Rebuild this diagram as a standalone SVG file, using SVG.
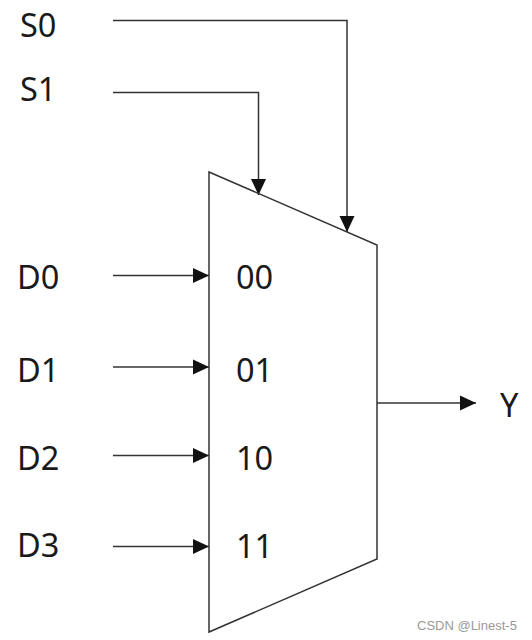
<svg xmlns="http://www.w3.org/2000/svg" width="532" height="640" viewBox="0 0 532 640">
<style>
.l{font-family:"Noto Sans","Open Sans","DejaVu Sans",sans-serif;font-size:32.5px;fill:#1a1a1a}
.c{fill:none;stroke:#333;stroke-width:1.5}
</style>
<defs><marker id="a" markerUnits="userSpaceOnUse" markerWidth="16" markerHeight="16" refX="16" refY="8" orient="auto"><path d="M0 0.5L16 8L0 15.5Z" fill="#111"/></marker></defs>
<rect width="532" height="640" fill="#fff"/>
<g id="connectors">
<path class="c" marker-end="url(#a)" d="M113 20.500H347V232"/>
<path class="c" marker-end="url(#a)" d="M113 92.500H258.500V195"/>
<path class="c" marker-end="url(#a)" d="M113 275.500H209"/>
<path class="c" marker-end="url(#a)" d="M113 367H209"/>
<path class="c" marker-end="url(#a)" d="M113 455.500H209"/>
<path class="c" marker-end="url(#a)" d="M113 546.500H209"/>
<path class="c" marker-end="url(#a)" d="M377 403H476"/>
</g>
<g id="mux"><path class="c" d="M209 172L377 245V559L209 632Z"/>
<text class="l" x="236" y="289">00</text><text class="l" x="236" y="382">01</text><text class="l" x="236" y="470">10</text><text class="l" x="236" y="558">11</text></g>
<g id="S0"><text class="l" x="20" y="37">S0</text></g>
<g id="S1"><text class="l" x="20" y="101">S1</text></g>
<g id="D0"><text class="l" x="17" y="289">D0</text></g>
<g id="D1"><text class="l" x="17" y="382">D1</text></g>
<g id="D2"><text class="l" x="17" y="470">D2</text></g>
<g id="D3"><text class="l" x="17" y="557">D3</text></g>
<g id="Y"><text class="l" x="500" y="417">Y</text></g>
<text x="417" y="630" style="font-family:'Liberation Sans',sans-serif;font-size:13px;fill:#999">CSDN @Linest-5</text>
</svg>
